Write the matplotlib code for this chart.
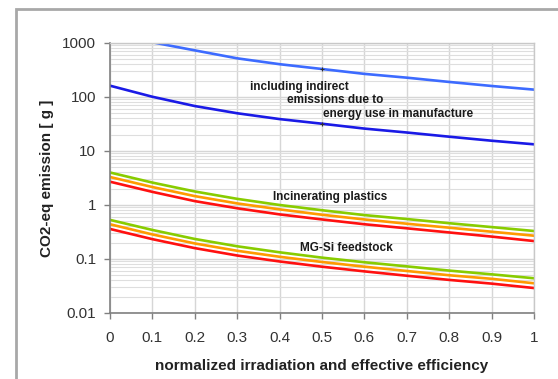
import matplotlib
matplotlib.use("Agg")
import matplotlib.pyplot as plt
from matplotlib.patches import Rectangle
from matplotlib.ticker import LogLocator, FixedLocator, NullFormatter

# =========================
# data
# =========================
x_vals = [0.0, 0.1, 0.2, 0.3, 0.4, 0.5, 0.6, 0.7, 0.8, 0.9, 1.0]

indirect_high = [1680, 1030, 730, 520, 405, 330, 268, 228, 190, 160, 137]
indirect_low = [162, 101, 68, 50, 39, 32, 26, 22, 18.4, 15.5, 13.3]

incin_green = [4.0, 2.6, 1.78, 1.30, 1.00, 0.80, 0.65, 0.55, 0.46, 0.39, 0.33]
incin_orange = [3.3, 2.15, 1.46, 1.07, 0.83, 0.66, 0.54, 0.45, 0.38, 0.32, 0.27]
incin_red = [2.7, 1.75, 1.18, 0.87, 0.67, 0.54, 0.44, 0.37, 0.31, 0.26, 0.215]

mgsi_green = [0.53, 0.345, 0.235, 0.172, 0.133, 0.106, 0.087, 0.073, 0.061, 0.052, 0.044]
mgsi_orange = [0.44, 0.285, 0.194, 0.142, 0.11, 0.088, 0.072, 0.06, 0.05, 0.043, 0.0355]
mgsi_red = [0.36, 0.233, 0.159, 0.116, 0.09, 0.072, 0.059, 0.049, 0.041, 0.035, 0.029]

x_ticks = [0, 0.1, 0.2, 0.3, 0.4, 0.5, 0.6, 0.7, 0.8, 0.9, 1]
x_ticklabels = ["0", "0.1", "0.2", "0.3", "0.4", "0.5", "0.6", "0.7", "0.8", "0.9", "1"]
y_ticks = [0.01, 0.1, 1, 10, 100, 1000]
y_ticklabels = ["0.01", "0.1", "1", "10", "100", "1000"]

plt.rcParams['font.family'] = ['Liberation Sans', 'DejaVu Sans']

fig = plt.figure(figsize=(5.58, 3.79), dpi=100)
ax = fig.add_axes([110 / 558, 1 - 313 / 379, 424 / 558, 270 / 379])

# outer frame (cropped on the right and bottom)
fig.patches.append(Rectangle((15.5 / 558, -0.5), 2.0, 1.5 - 8.5 / 379,
                             transform=fig.transFigure, fill=False,
                             edgecolor='#a8a8a8', linewidth=2.0))

# =========================
# curves
# =========================
lw = 1.9
ax.plot(x_vals, indirect_high, color='#3d6bff', linewidth=lw)
ax.plot(x_vals, indirect_low, color='#1a1ae6', linewidth=lw)
ax.plot([x_vals[5]], [indirect_high[5]], marker='+', color='#303030', markersize=3, markeredgewidth=0.8)
ax.plot([x_vals[5]], [indirect_low[5]], marker='+', color='#303030', markersize=3, markeredgewidth=0.8)

for g, o, r in [(incin_green, incin_orange, incin_red), (mgsi_green, mgsi_orange, mgsi_red)]:
    ax.plot(x_vals, g, color='#88cc00', linewidth=lw)
    ax.plot(x_vals, o, color='#ff9a00', linewidth=lw)
    ax.plot(x_vals, r, color='#ff1010', linewidth=lw)

# =========================
# axes
# =========================
ax.set_yscale('log')
ax.set_xlim(0, 1)
ax.set_ylim(0.01, 1000)

ax.set_xticks(x_ticks)
ax.set_xticklabels(x_ticklabels)
ax.yaxis.set_major_locator(FixedLocator(y_ticks))
ax.set_yticklabels(y_ticklabels)
ax.yaxis.set_minor_locator(LogLocator(base=10, subs=range(2, 10)))
ax.yaxis.set_minor_formatter(NullFormatter())

ax.grid(True, which='major', axis='both', color='#d6d6d6', linewidth=1.0)
ax.grid(True, which='minor', axis='y', color='#dedede', linewidth=0.8)
ax.set_axisbelow(True)
ax.tick_params(axis='y', which='minor', length=0)
ax.tick_params(axis='both', which='major', direction='out', length=4, width=1,
               color='#808080', labelsize=11, labelcolor='#333333', pad=6)
ax.tick_params(axis='x', pad=9)

for side in ['left', 'bottom']:
    ax.spines[side].set_color('#808080')
    ax.spines[side].set_linewidth(1.2)
for side in ['top', 'right']:
    ax.spines[side].set_color('#c8c8c8')
    ax.spines[side].set_linewidth(1.0)

ax.set_xlabel('normalized irradiation and effective efficiency', fontsize=11,
              fontweight='bold', color='#222222', labelpad=10)
ax.set_ylabel('CO2-eq emission [ g ]', fontsize=11, fontweight='bold',
              color='#222222', labelpad=6)

# =========================
# annotations
# =========================
txt = dict(fontsize=8.5, fontweight='bold', color='#1a1a1a', ha='left', va='center')
ax.text(0.33, 153, 'including indirect', **txt)
ax.text(0.417, 88, 'emissions due to', **txt)
ax.text(0.502, 48, 'energy use in manufacture', **txt)
ax.text(0.384, 1.4, 'Incinerating plastics', **txt)
ax.text(0.448, 0.16, 'MG-Si feedstock', **txt)

fig.savefig('out.png', dpi=100)
